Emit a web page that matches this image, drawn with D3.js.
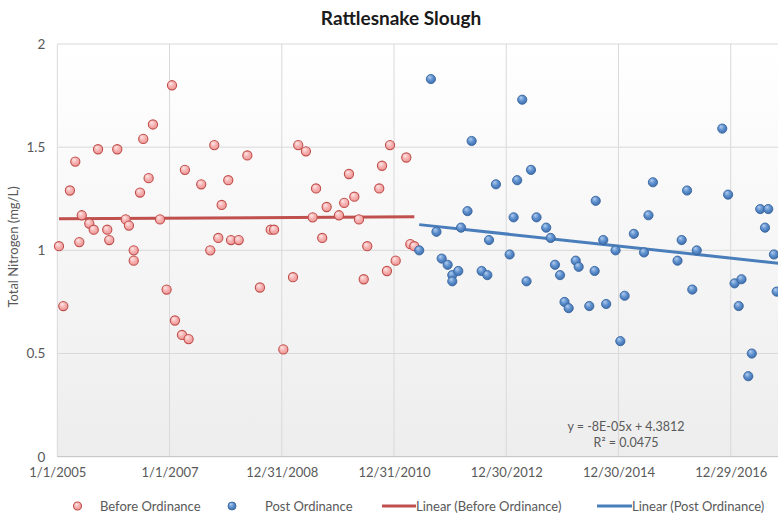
<!DOCTYPE html>
<html>
<head>
<meta charset="utf-8">
<script src="https://cdn.jsdelivr.net/npm/d3@7"></script>
<style>
  html, body { margin: 0; padding: 0; background: #fff; }
  svg { display: block; font-family: Lato, "Open Sans", "Liberation Sans", sans-serif; }
</style>
</head>
<body>
<svg id="chart" width="778" height="517"></svg>
<script>
// Sample dates and total nitrogen (mg/L), before the ordinance
const beforeDates = [
  "2005-01-12","2005-02-09","2005-03-24","2005-04-28","2005-05-24","2005-06-09","2005-07-28","2005-08-26",
  "2005-09-23","2005-11-22","2005-12-05","2006-01-26","2006-03-22","2006-04-12","2006-05-13","2006-05-13",
  "2006-06-23","2006-07-14","2006-08-18","2006-09-15","2006-10-31","2006-12-13","2007-01-17","2007-02-05",
  "2007-03-23","2007-04-11","2007-05-05","2007-07-26","2007-09-23","2007-10-19","2007-11-14","2007-12-06",
  "2008-01-18","2008-02-05","2008-03-26","2008-05-21","2008-08-11","2008-10-20","2008-11-11","2009-01-10",
  "2009-03-14","2009-04-17","2009-06-06","2009-07-20","2009-08-11","2009-09-20","2009-10-19","2010-01-07",
  "2010-02-10","2010-03-13","2010-04-17","2010-05-17","2010-06-17","2010-07-10","2010-09-26","2010-10-14",
  "2010-11-15","2010-12-05","2011-01-11","2011-03-21","2011-04-16","2011-05-12"
];
const beforeValues = [
  1.02,0.73,1.29,1.43,1.04,1.17,1.13,1.10,
  1.49,1.10,1.05,1.49,1.15,1.12,1.00,0.95,
  1.28,1.54,1.35,1.61,1.15,0.81,1.80,0.66,
  0.59,1.39,0.57,1.32,1.00,1.51,1.06,1.22,
  1.34,1.05,1.05,1.46,0.82,1.10,1.10,0.52,
  0.87,1.51,1.48,1.16,1.30,1.06,1.21,1.17,
  1.23,1.37,1.26,1.15,0.86,1.02,1.30,1.41,
  0.90,1.51,0.95,1.45,1.03,1.02
];

// Sample dates and total nitrogen (mg/L), after the ordinance
const postDates = [
  "2011-06-13","2011-08-28","2011-10-03","2011-11-06","2011-12-15","2012-01-14","2012-01-14","2012-02-22",
  "2012-03-11","2012-04-22","2012-05-19","2012-07-23","2012-08-29","2012-09-09","2012-10-24","2013-01-21",
  "2013-02-16","2013-03-11","2013-04-13","2013-05-11","2013-06-09","2013-07-15","2013-09-16","2013-10-15",
  "2013-11-12","2013-12-15","2014-01-13","2014-02-09","2014-03-27","2014-04-15","2014-06-23","2014-07-28",
  "2014-08-04","2014-09-22","2014-10-11","2014-12-11","2015-01-11","2015-02-08","2015-04-09","2015-06-14",
  "2015-07-13","2015-08-11","2016-01-18","2016-02-14","2016-03-20","2016-04-23","2016-05-22","2016-11-04",
  "2016-12-12","2017-01-23","2017-02-19","2017-03-09","2017-04-22","2017-05-15","2017-07-09","2017-08-09",
  "2017-08-30","2017-10-06","2017-10-24"
];
const postValues = [
  1.00,1.83,1.09,0.96,0.93,0.88,0.85,0.90,
  1.11,1.19,1.53,0.90,0.88,1.05,1.32,0.98,
  1.16,1.34,1.73,0.85,1.39,1.16,1.11,1.06,
  0.93,0.88,0.75,0.72,0.95,0.92,0.73,0.90,
  1.24,1.05,0.74,1.00,0.56,0.78,1.08,0.99,
  1.17,1.33,0.95,1.05,1.29,0.81,1.00,1.59,
  1.27,0.84,0.73,0.86,0.39,0.50,1.20,1.11,
  1.20,0.98,0.80
];

// Axis ticks
const xTickLabels = ["1/1/2005","1/1/2007","12/31/2008","12/31/2010","12/30/2012","12/30/2014","12/29/2016"];
const yTickValues = [0, 0.5, 1, 1.5, 2];
const yTickLabels = ["0", "0.5", "1", "1.5", "2"];

// Linear fits, x in spreadsheet serial days
const beforeFit = { slope: 4.3e-6, intercept: 0.98803 };
const postFit = { slope: -8e-5, intercept: 4.3812 };
const postFitLabel = ["y = -8E-05x + 4.3812", "R\u00B2 = 0.0475"];

const xDomain = ["2005-01-01", "2018-01-01"];

// ---------------------------------------------------------------
const W = 778, H = 517;
const plot = { left: 57.3, right: 787.3, top: 44, bottom: 456.7 };

const parseIso = d3.utcParse("%Y-%m-%d");
const parseTick = d3.utcParse("%m/%d/%Y");
const serialEpoch = Date.UTC(1899, 11, 30);
const toSerial = d => (d.getTime() - serialEpoch) / 86400000;

const x = d3.scaleUtc().domain(xDomain.map(parseIso)).range([plot.left, plot.right]);
const y = d3.scaleLinear().domain([0, 2]).range([plot.bottom, plot.top]);

const svg = d3.select("#chart");
const defs = svg.append("defs");

const bgGrad = defs.append("linearGradient").attr("id", "plotBg")
  .attr("x1", 0).attr("y1", 0).attr("x2", 0).attr("y2", 1);
bgGrad.append("stop").attr("offset", "0%").attr("stop-color", "#ffffff");
bgGrad.append("stop").attr("offset", "100%").attr("stop-color", "#ededed");

const redGrad = defs.append("radialGradient").attr("id", "redMarker")
  .attr("cx", "45%").attr("cy", "40%").attr("r", "60%").attr("fx", "35%").attr("fy", "30%");
redGrad.append("stop").attr("offset", "0%").attr("stop-color", "#fde6e6");
redGrad.append("stop").attr("offset", "55%").attr("stop-color", "#f6b1b0");
redGrad.append("stop").attr("offset", "100%").attr("stop-color", "#ee9696");

const blueGrad = defs.append("radialGradient").attr("id", "blueMarker")
  .attr("cx", "45%").attr("cy", "40%").attr("r", "60%").attr("fx", "35%").attr("fy", "28%");
blueGrad.append("stop").attr("offset", "0%").attr("stop-color", "#b4cdee");
blueGrad.append("stop").attr("offset", "50%").attr("stop-color", "#6294d1");
blueGrad.append("stop").attr("offset", "100%").attr("stop-color", "#3d6cab");

defs.append("clipPath").attr("id", "plotClip")
  .append("rect").attr("x", plot.left - 6).attr("y", plot.top - 6)
  .attr("width", plot.right - plot.left + 6).attr("height", plot.bottom - plot.top + 12);

// Plot background
svg.append("rect")
  .attr("x", plot.left).attr("y", plot.top)
  .attr("width", plot.right - plot.left).attr("height", plot.bottom - plot.top)
  .attr("fill", "url(#plotBg)");

// Gridlines
const xTicks = xTickLabels.map(parseTick);
svg.append("g").selectAll("line").data(xTicks).join("line")
  .attr("x1", d => x(d)).attr("x2", d => x(d))
  .attr("y1", plot.top).attr("y2", plot.bottom)
  .attr("stroke", "#d9d9d9").attr("stroke-width", 1);
svg.append("g").selectAll("line").data(yTickValues.filter(v => v > 0)).join("line")
  .attr("x1", plot.left).attr("x2", plot.right)
  .attr("y1", d => y(d)).attr("y2", d => y(d))
  .attr("stroke", "#d9d9d9").attr("stroke-width", 1);

// Bottom axis line
svg.append("line")
  .attr("x1", plot.left).attr("x2", plot.right)
  .attr("y1", plot.bottom).attr("y2", plot.bottom)
  .attr("stroke", "#bfbfbf").attr("stroke-width", 1);

// Axis tick labels
const xAxis = d3.axisBottom(x).tickValues(xTicks)
  .tickFormat((d, i) => xTickLabels[i]).tickSize(0).tickPadding(11);
const gx = svg.append("g").attr("transform", `translate(0,${plot.bottom})`).call(xAxis);
gx.select(".domain").remove();
gx.selectAll("text").attr("font-size", 13).attr("fill", "#595959")
  .attr("font-family", "Lato, 'Open Sans', sans-serif");

const yAxis = d3.axisLeft(y).tickValues(yTickValues)
  .tickFormat((d, i) => yTickLabels[i]).tickSize(0).tickPadding(12);
const gy = svg.append("g").attr("transform", `translate(${plot.left},0)`).call(yAxis);
gy.select(".domain").remove();
gy.selectAll("text").attr("font-size", 13.5).attr("fill", "#595959")
  .attr("font-family", "Lato, 'Open Sans', sans-serif");

// Axis title and chart title
svg.append("text")
  .attr("transform", "translate(18,247) rotate(-90)")
  .attr("text-anchor", "middle")
  .attr("font-size", 13).attr("fill", "#595959")
  .text("Total Nitrogen (mg/L)");

svg.append("text")
  .attr("x", 401).attr("y", 25)
  .attr("text-anchor", "middle")
  .attr("font-size", 19).attr("font-weight", "bold").attr("fill", "#1a1a1a")
  .text("Rattlesnake Slough");

// Data
const beforeData = beforeDates.map((d, i) => ({ date: parseIso(d), value: beforeValues[i] }));
const postData = postDates.map((d, i) => ({ date: parseIso(d), value: postValues[i] }));

const layer = svg.append("g").attr("clip-path", "url(#plotClip)");

// Trend lines
function fitLine(fit, start, end) {
  return [start, end].map(d => ({ date: d, value: fit.intercept + fit.slope * toSerial(d) }));
}
const line = d3.line().x(d => x(d.date)).y(d => y(d.value));

layer.append("path")
  .datum(fitLine(beforeFit, beforeData[0].date, beforeData[beforeData.length - 1].date))
  .attr("d", line).attr("fill", "none")
  .attr("stroke", "#c0504d").attr("stroke-width", 3);

layer.append("path")
  .datum(fitLine(postFit, postData[0].date, x.domain()[1]))
  .attr("d", line).attr("fill", "none")
  .attr("stroke", "#4a7ebb").attr("stroke-width", 3);

// Markers
layer.append("g").selectAll("circle").data(beforeData).join("circle")
  .attr("cx", d => x(d.date)).attr("cy", d => y(d.value)).attr("r", 4.6)
  .attr("fill", "url(#redMarker)").attr("stroke", "#c0504d").attr("stroke-width", 1.1);

layer.append("g").selectAll("circle").data(postData).join("circle")
  .attr("cx", d => x(d.date)).attr("cy", d => y(d.value)).attr("r", 4.6)
  .attr("fill", "url(#blueMarker)").attr("stroke", "#3a679f").attr("stroke-width", 0.9);

// Fit equation
const eq = svg.append("text").attr("text-anchor", "middle")
  .attr("font-size", 12.5).attr("fill", "#595959");
eq.selectAll("tspan").data(postFitLabel).join("tspan")
  .attr("x", 626).attr("y", (d, i) => 431 + i * 16).text(d => d);

// Legend
const legendY = 506;
const legend = svg.append("g").attr("font-size", 13).attr("fill", "#595959");
legend.append("circle").attr("cx", 77.5).attr("cy", legendY).attr("r", 4)
  .attr("fill", "url(#redMarker)").attr("stroke", "#c0504d").attr("stroke-width", 1.1);
legend.append("text").attr("x", 100).attr("y", legendY + 4.5).text("Before Ordinance");
legend.append("circle").attr("cx", 232).attr("cy", legendY).attr("r", 4)
  .attr("fill", "url(#blueMarker)").attr("stroke", "#3a679f").attr("stroke-width", 0.9);
legend.append("text").attr("x", 265).attr("y", legendY + 4.5).text("Post Ordinance");
legend.append("line").attr("x1", 382).attr("x2", 416).attr("y1", legendY).attr("y2", legendY)
  .attr("stroke", "#c0504d").attr("stroke-width", 3);
legend.append("text").attr("x", 416).attr("y", legendY + 4.5).text("Linear (Before Ordinance)");
legend.append("line").attr("x1", 597).attr("x2", 632).attr("y1", legendY).attr("y2", legendY)
  .attr("stroke", "#4a7ebb").attr("stroke-width", 3);
legend.append("text").attr("x", 632).attr("y", legendY + 4.5).text("Linear (Post Ordinance)");
</script>
</body>
</html>
